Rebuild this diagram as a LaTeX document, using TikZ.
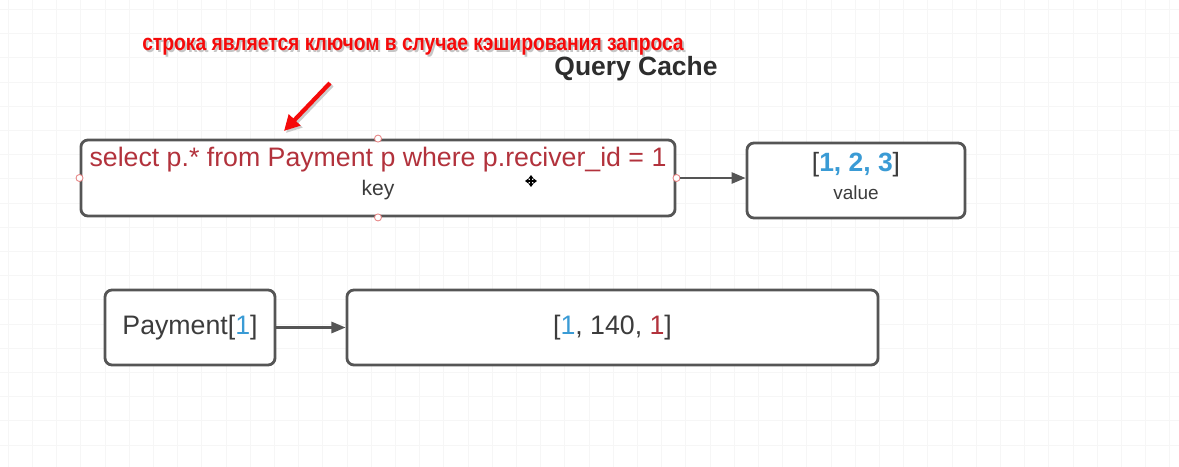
\documentclass[tikz,border=0pt]{standalone}
\usepackage{fontspec}
\setmainfont{Liberation Sans}
\newfontfamily\notefont[FakeStretch=0.84]{Liberation Sans}
\usetikzlibrary{arrows.meta}

\definecolor{boxgray}{RGB}{85,85,85}
\definecolor{textgray}{RGB}{60,60,60}
\definecolor{titlegray}{RGB}{45,45,45}
\definecolor{keyred}{RGB}{178,50,60}
\definecolor{numblue}{RGB}{58,155,213}
\definecolor{notered}{RGB}{245,10,10}
\definecolor{handlered}{RGB}{230,130,130}

\tikzset{
  cachebox/.style={draw=boxgray, line width=2pt, rounded corners=5pt, fill=white, inner sep=0pt},
  conn/.style={draw=boxgray, line width=1.5pt, -{Triangle[length=10pt,width=8pt]}},
  handle/.style={circle, draw=handlered, fill=white, line width=0.6pt, minimum size=5pt, inner sep=0pt},
  gridline/.style={draw=gray!7, line width=0.8pt},
  notearrow/.style={line width=3pt, -{Triangle[length=11pt,width=11pt]}},
  cursorarrow/.style={line width=1pt, -{Triangle[length=2.5pt,width=3.5pt]}},
  notetext/.style={font=\notefont\bfseries\fontsize{16.3}{18}\selectfont, inner sep=0pt},
}

\begin{document}
\begin{tikzpicture}[x=0.025cm, y=-0.025cm]
  \useasboundingbox (0,0) rectangle (1179,467);
  \fill[white] (0,0) rectangle (1179,467);

  % grid
  \foreach \i in {0,...,48}
    \draw[gridline] ({8.3+24.2*\i},0) -- ({8.3+24.2*\i},467);
  \foreach \j in {0,...,19}
    \draw[gridline] (0,{9.5+24.2*\j}) -- (1179,{9.5+24.2*\j});

  % title and note
  \node[font=\bfseries\fontsize{18.8}{21}\selectfont, text=titlegray, inner sep=0pt] (title) at (636,69) {Query Cache};
  \node[notetext, text=gray!45] (noteshadow) at (415,49)
    {строка является ключом в случае кэширования запроса};
  \node[notetext, text=notered] (note) at (413,47)
    {строка является ключом в случае кэширования запроса};
  \coordinate (arrtail) at (330,83);
  \coordinate (arrhead) at (284,131);
  \draw[notearrow, gray!40] ([shift={(2,2)}]arrtail) -- ([shift={(2,2)}]arrhead);
  \draw[notearrow, notered] (arrtail) -- (arrhead);

  % key -> value
  \node[cachebox, minimum width=14.85cm, minimum height=1.9cm] (keybox) at (378,178) {};
  \node[font=\fontsize{19}{22}\selectfont, text=keyred] (query) at (378,160)
    {select p.* from Payment p where p.reciver\_id = 1};
  \node[font=\fontsize{15}{17}\selectfont, text=textgray] (keylabel) at (378,190) {key};
  \foreach \a in {north,south,east,west}
    \node[handle] (h-\a) at (keybox.\a) {};
  \coordinate (cursor) at (531,181);
  \foreach \d in {(0,-6),(0,6),(-6,0),(6,0)}
    \draw[cursorarrow] (cursor) -- ++\d;

  \node[cachebox, minimum width=5.45cm, minimum height=1.875cm] (valbox) at (856,180.5) {};
  \node[font=\fontsize{18.8}{21}\selectfont, text=textgray] (valtext) at (856,165)
    {[\textcolor{numblue}{\bfseries 1, 2, 3}]};
  \node[font=\fontsize{13.5}{15}\selectfont, text=textgray] (vallabel) at (856,193) {value};
  \draw[conn] (h-east) -- (h-east -| valbox.west);

  % entity -> row
  \node[cachebox, minimum width=4.25cm, minimum height=1.875cm, font=\fontsize{19}{21}\selectfont, text=textgray]
    (entity) at (190,327.5) {Payment[\textcolor{numblue}{1}]};
  \node[cachebox, minimum width=13.275cm, minimum height=1.875cm, font=\fontsize{19}{21}\selectfont, text=textgray]
    (row) at (612.5,327.5) {[\textcolor{numblue}{1}, 140, \textcolor{keyred}{1}]};
  \draw[conn] (entity) -- (row);
\end{tikzpicture}
\end{document}
